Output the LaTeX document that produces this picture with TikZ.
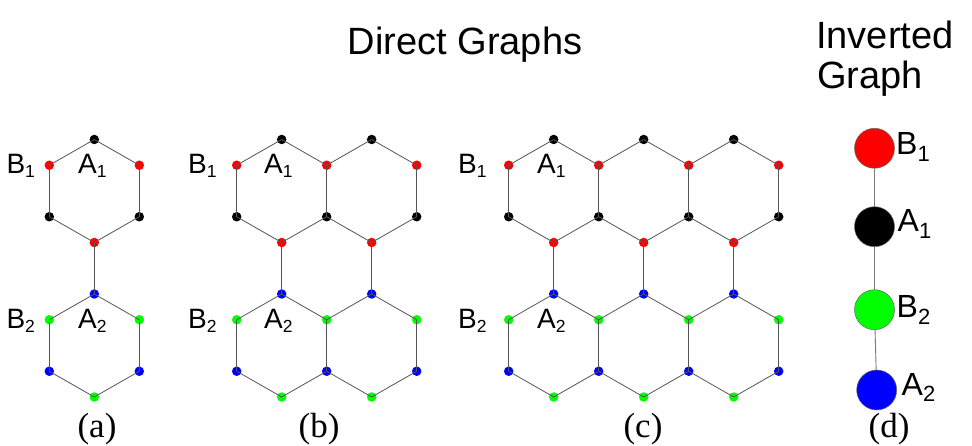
\documentclass[tikz,border=0pt]{standalone}
\usepackage{fontspec}
\setmainfont{Liberation Sans}
\newfontfamily\capfont{Liberation Serif}
\newcommand\mysub[1]{\raisebox{-0.14em}{\fontsize{17.5}{17.5}\selectfont #1}}
\newcommand\mybigsub[1]{\raisebox{-0.2em}{\fontsize{22}{22}\selectfont #1}}
\definecolor{cred}{RGB}{255,0,0}
\definecolor{cgreen}{RGB}{0,255,0}
\definecolor{cblue}{RGB}{0,0,255}
\definecolor{cblack}{RGB}{0,0,0}
\definecolor{edgecol}{RGB}{85,85,85}
\definecolor{edgecolb}{RGB}{120,120,120}
\begin{document}
\begin{tikzpicture}[x=1pt,y=-1pt,
  dot/.style={circle,inner sep=0pt,minimum size=9.5pt,draw=none},
  edge/.style={draw=edgecol,line width=0.8pt},
  bigedge/.style={draw=edgecolb,line width=0.9pt},
  big/.style={circle,inner sep=0pt,minimum size=40pt,draw=black!60,line width=0.5pt},
  lab/.style={font=\fontsize{28}{28}\selectfont,inner sep=0pt,anchor=base west},
  biglab/.style={font=\fontsize{32}{32}\selectfont,inner sep=0pt,anchor=base west},
  captext/.style={font=\capfont\fontsize{35}{35}\selectfont,inner sep=0pt,anchor=base},
  titletext/.style={font=\fontsize{38}{38}\selectfont,inner sep=0pt}]
\useasboundingbox (0,0) rectangle (972,446);
% lattice nodes
\foreach \p/\x/\n in {a/49.3/1,b/236.7/2,c/508.7/3}{
  \pgfmathtruncatemacro\nm{\n-1}
  \foreach \j in {0,...,\n}{
    \node[dot,fill=cred]   (\p U\j) at (\x+90*\j,165.25) {};
    \node[dot,fill=cblack] (\p L\j) at (\x+90*\j,216.75) {};
    \node[dot,fill=cgreen] (\p V\j) at (\x+90*\j,319.75) {};
    \node[dot,fill=cblue]  (\p W\j) at (\x+90*\j,371.25) {};
  }
  \foreach \k in {0,...,\nm}{
    \node[dot,fill=cblack] (\p T\k) at (\x+45+90*\k,139.5) {};
    \node[dot,fill=cred]   (\p D\k) at (\x+45+90*\k,242.5) {};
    \node[dot,fill=cblue]  (\p S\k) at (\x+45+90*\k,294) {};
    \node[dot,fill=cgreen] (\p E\k) at (\x+45+90*\k,397) {};
  }
}
% lattice edges
\foreach \p/\n in {a/1,b/2,c/3}{
  \pgfmathtruncatemacro\nm{\n-1}
  \foreach \k in {0,...,\nm}{
    \pgfmathtruncatemacro\kp{\k+1}
    \draw[edge] (\p U\k.center) -- (\p T\k.center) -- (\p U\kp.center);
    \draw[edge] (\p L\k.center) -- (\p D\k.center) -- (\p L\kp.center);
    \draw[edge] (\p D\k.center) -- (\p S\k.center);
    \draw[edge] (\p V\k.center) -- (\p S\k.center) -- (\p V\kp.center);
    \draw[edge] (\p W\k.center) -- (\p E\k.center) -- (\p W\kp.center);
  }
  \foreach \j in {0,...,\n}{
    \draw[edge] (\p U\j.center) -- (\p L\j.center);
    \draw[edge] (\p V\j.center) -- (\p W\j.center);
  }
}
% lattice labels
\foreach \p/\bx/\ax in {a/6.3/78,b/188/264,c/458/537}{
  \node[lab] (\p lB1) at (\bx,173.3) {B\mysub{1}};
  \node[lab] (\p lA1) at (\ax,173.3) {A\mysub{1}};
  \node[lab] (\p lB2) at (\bx,328.3) {B\mysub{2}};
  \node[lab] (\p lA2) at (\ax,328.3) {A\mysub{2}};
}
% inverted graph
\node[big,fill=cred]   (dB1) at (874.5,148.3) {};
\node[big,fill=cblack] (dA1) at (874.5,226.7) {};
\node[big,fill=cgreen] (dB2) at (874.5,309.7) {};
\node[big,fill=cblue]  (dA2) at (876.7,390) {};
\draw[bigedge] (dB1) -- (dA1);
\draw[bigedge] (dA1) -- (dB2);
\draw[bigedge] (dB2) -- (dA2);
\node[biglab] (dlB1) at (896,155) {B\mybigsub{1}};
\node[biglab] (dlA1) at (897.5,232) {A\mybigsub{1}};
\node[biglab] (dlB2) at (896.5,318) {B\mybigsub{2}};
\node[biglab] (dlA2) at (901.5,395) {A\mybigsub{2}};
% titles
\node[titletext,anchor=base] (t1) at (465,55) {Direct Graphs};
\node[titletext,anchor=base west] (t2) at (816,48.3) {Inverted};
\node[titletext,anchor=base west] (t3) at (817,88.3) {Graph};
% captions
\node[captext] (ca) at (97,437.5) {(a)};
\node[captext] (cb) at (319,437.5) {(b)};
\node[captext] (cc) at (643,437.5) {(c)};
\node[captext] (cd) at (889,437.5) {(d)};
\end{tikzpicture}
\end{document}
